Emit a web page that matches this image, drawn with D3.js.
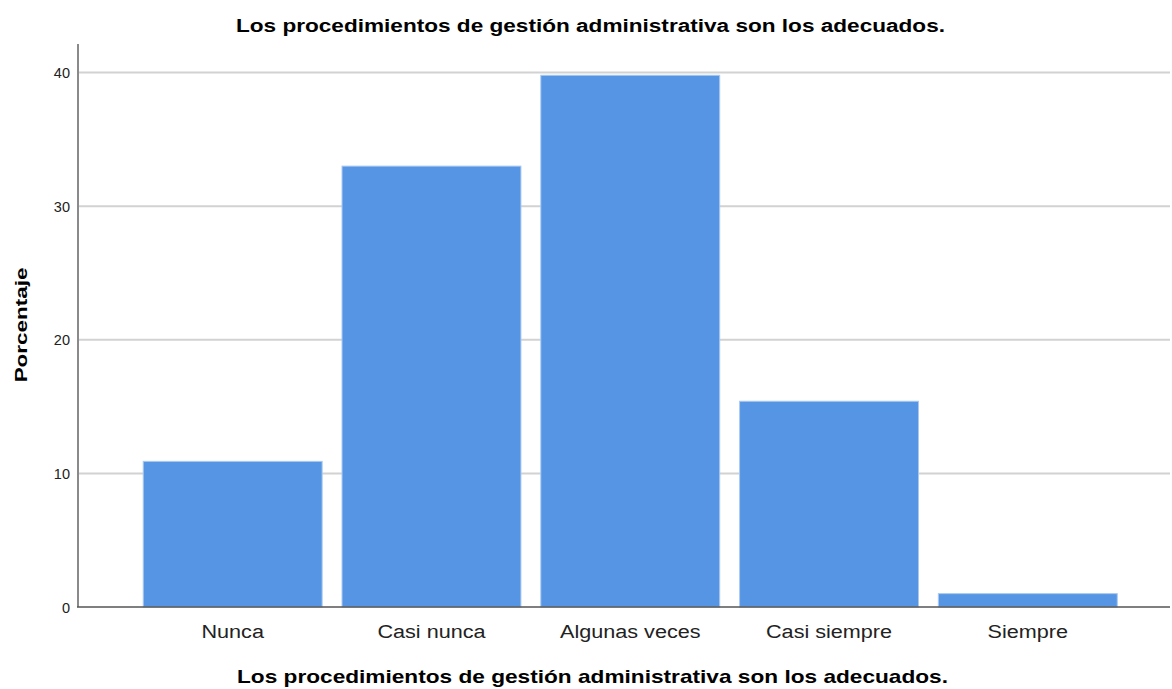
<!DOCTYPE html>
<html>
<head>
<meta charset="utf-8">
<script src="https://cdn.jsdelivr.net/npm/d3@7"></script>
<style>
  body { margin: 0; background: #fff; }
  text { font-family: "Liberation Sans", Arial, sans-serif; fill: #000; }
</style>
</head>
<body>
<div id="graph"></div>
<script>
// data
const categories = ["Nunca", "Casi nunca", "Algunas veces", "Casi siempre", "Siempre"];
const percents = [10.9, 33.0, 39.8, 15.4, 1.0];
const yTicks = [0, 10, 20, 30, 40];
const chartTitle = "Los procedimientos de gestión administrativa son los adecuados.";
const yTitle = "Porcentaje";

const W = 1172, H = 689;
const plotL = 78, plotR = 1170, plotT = 44, plotB = 607;

const svg = d3.select("#graph").append("svg")
  .attr("width", W)
  .attr("height", H);

//stretch text wider, the source renders fonts a bit wide
const stretch = (sel, k) => sel.each(function() {
  const w = this.getComputedTextLength();
  d3.select(this).attr("textLength", w * k).attr("lengthAdjust", "spacingAndGlyphs");
});

//scales
const x = d3.scaleBand()
  .domain(categories)
  .range([133.3, 1127.2])
  .paddingInner(0.1)
  .paddingOuter(0.05);
const y = d3.scaleLinear()
  .domain([0, 40])
  .range([plotB, 72.6]);

//gridlines
svg.append("g")
  .selectAll("line")
  .data(yTicks.filter(d => d > 0))
  .enter().append("line")
  .attr("x1", plotL).attr("x2", plotR)
  .attr("y1", d => y(d)).attr("y2", d => y(d))
  .attr("stroke", "#d2d2d2")
  .attr("stroke-width", 2);

//bars
svg.append("g")
  .selectAll("rect")
  .data(percents)
  .enter().append("rect")
  .attr("x", (d, i) => x(categories[i]))
  .attr("y", d => y(d))
  .attr("width", x.bandwidth())
  .attr("height", d => plotB - y(d))
  .attr("fill", "#5595e3")
  .attr("stroke", "#a9c9f1")
  .attr("stroke-width", 1);

//y axis
const yAxis = d3.axisLeft(y).tickValues(yTicks).tickSize(0).tickPadding(8);
const yg = svg.append("g")
  .attr("transform", "translate(" + plotL + ",0)")
  .call(yAxis);
yg.select(".domain").remove();
yg.selectAll("text").style("font-size", "14.5px").attr("dy", "0.35em").style("fill", "#222");
svg.append("line")
  .attr("x1", plotL).attr("x2", plotL)
  .attr("y1", plotT).attr("y2", plotB)
  .attr("stroke", "#8a8a8a").attr("stroke-width", 2);

//x axis
const xAxis = d3.axisBottom(x).tickSize(0).tickPadding(18);
const xg = svg.append("g")
  .attr("transform", "translate(0," + plotB + ")")
  .call(xAxis);
xg.select(".domain").remove();
xg.selectAll("text").style("font-size", "18px").style("fill", "#222").call(stretch, 1.2);
svg.append("line")
  .attr("x1", plotL - 1).attr("x2", plotR)
  .attr("y1", plotB).attr("y2", plotB)
  .attr("stroke", "#555").attr("stroke-width", 1.5);

//titles
svg.append("text")
  .text(chartTitle)
  .attr("x", 590.5).attr("y", 32)
  .attr("text-anchor", "middle")
  .attr("textLength", 709).attr("lengthAdjust", "spacingAndGlyphs")
  .style("font-size", "18px").style("font-weight", "bold");

svg.append("text")
  .text(chartTitle)
  .attr("x", 592.5).attr("y", 683)
  .attr("text-anchor", "middle")
  .attr("textLength", 711).attr("lengthAdjust", "spacingAndGlyphs")
  .style("font-size", "19px").style("font-weight", "bold");

svg.append("text")
  .text(yTitle)
  .attr("transform", "translate(27,325) rotate(-90)")
  .attr("text-anchor", "middle")
  .style("font-size", "17px").style("font-weight", "bold")
  .call(stretch, 1.32);
</script>
</body>
</html>
